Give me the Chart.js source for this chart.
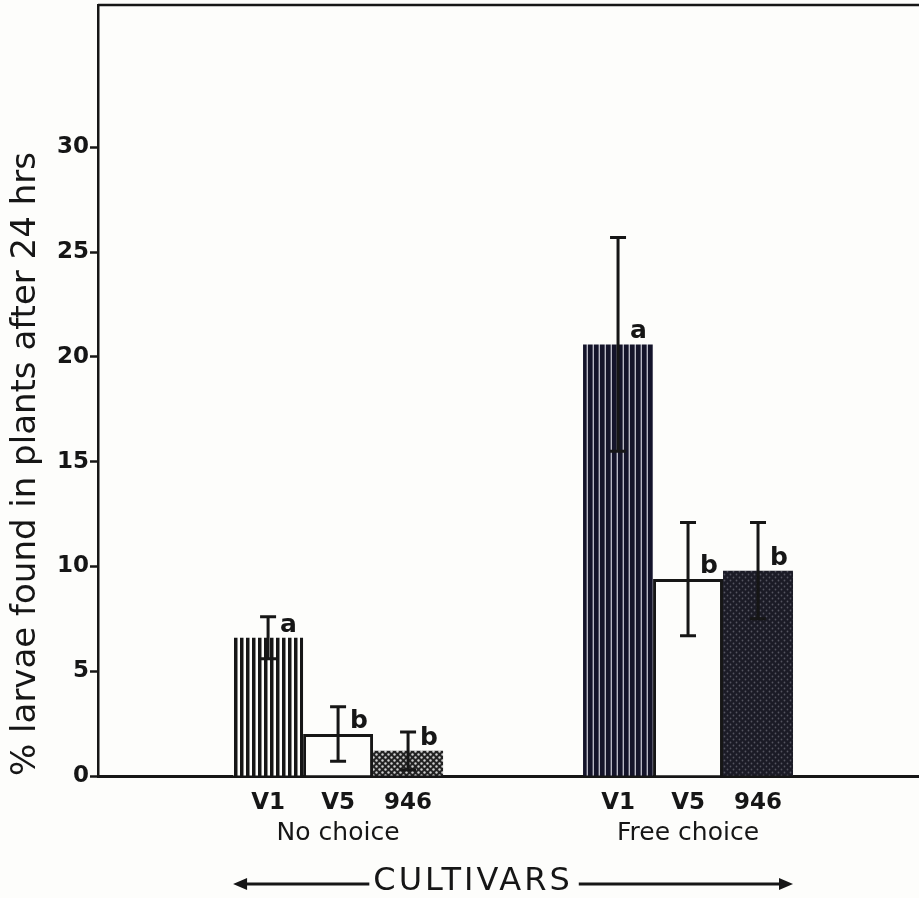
<!DOCTYPE html>
<html>
<head>
<meta charset="utf-8">
<script src="https://cdn.jsdelivr.net/npm/chart.js@4.4.1/dist/chart.umd.min.js"></script>
<style>
  html, body { margin: 0; padding: 0; background: #fdfdfb; }
  #wrap { width: 919px; height: 898px; }
</style>
</head>
<body>
<div id="wrap"><canvas id="c"></canvas></div>
<script>
// values
const groups = ['No choice', 'Free choice'];
const cultivars = ['V1', 'V5', '946'];
const v1Means = [6.6, 20.6];
const v5Means = [2.0, 9.4];
const c946Means = [1.2, 9.8];
const v1Err = [1.0, 5.1];
const v5Err = [1.3, 2.7];
const c946Err = [0.9, 2.3];
const v1Letters = ['a', 'a'];
const v5Letters = ['b', 'b'];
const c946Letters = ['b', 'b'];
const yTicks = [0, 5, 10, 15, 20, 25, 30];

const ink = '#161616';
const paper = '#fdfdfb';
const font = 'DejaVu Sans';

const canvas = document.getElementById('c');
const ctx = canvas.getContext('2d');

function stripes(bg, line, period, lineW) {
    const t = document.createElement('canvas');
    t.width = period; t.height = 4;
    const g = t.getContext('2d');
    g.fillStyle = bg; g.fillRect(0, 0, period, 4);
    g.fillStyle = line; g.fillRect(0, 0, lineW, 4);
    return ctx.createPattern(t, 'repeat');
}

function stipple(bg, dot, r) {
    const t = document.createElement('canvas');
    t.width = 6; t.height = 6;
    const g = t.getContext('2d');
    g.fillStyle = bg; g.fillRect(0, 0, 6, 6);
    g.fillStyle = dot;
    [[1.5, 1.5], [4.5, 4.5]].forEach(([x, y]) => {
        g.beginPath(); g.arc(x, y, r, 0, Math.PI * 2); g.fill();
    });
    return ctx.createPattern(t, 'repeat');
}

const toPoints = means => means.map((y, i) => ({ x: i, y: y }));

const annotate = {
    id: 'annotate',
    afterDatasetsDraw(chart) {
        const c = chart.ctx;
        const y = chart.scales.y;
        const area = chart.chartArea;
        c.save();
        c.strokeStyle = ink;
        c.fillStyle = ink;

        // top frame line
        c.lineWidth = 2.5;
        c.beginPath();
        c.moveTo(area.left, area.top);
        c.lineTo(area.right, area.top);
        c.stroke();

        chart.data.datasets.forEach((ds, d) => {
            const meta = chart.getDatasetMeta(d);
            meta.data.forEach((bar, i) => {
                const m = ds.data[i].y;
                const top = y.getPixelForValue(m + ds.err[i]);
                const bot = y.getPixelForValue(m - ds.err[i]);
                c.lineWidth = 3;
                c.beginPath();
                c.moveTo(bar.x, top); c.lineTo(bar.x, bot);
                c.moveTo(bar.x - 8, top); c.lineTo(bar.x + 8, top);
                c.moveTo(bar.x - 8, bot); c.lineTo(bar.x + 8, bot);
                c.stroke();

                c.font = 'bold 25px "' + font + '"';
                c.textAlign = 'left';
                c.textBaseline = 'alphabetic';
                c.fillText(ds.letters[i], bar.x + 12, bar.y - 6);

                c.font = 'bold 23px "' + font + '"';
                c.textAlign = 'center';
                c.textBaseline = 'middle';
                c.fillText(ds.label, bar.x, area.bottom + 27);
            });
        });

        // CULTIVARS with arrows
        const first = chart.getDatasetMeta(0).data[0];
        const last = chart.getDatasetMeta(2).data[1];
        const x0 = first.x - first.width / 2;
        const x1 = last.x + last.width / 2;
        const ay = area.bottom + 108;
        const label = 'CULTIVARS';
        c.font = '32px "' + font + '"';
        c.letterSpacing = '3px';
        const w = c.measureText(label).width;
        const cx = (x0 + x1) / 2 - 40;
        c.textAlign = 'center';
        c.textBaseline = 'middle';
        c.fillText(label, cx, ay - 2);
        c.lineWidth = 3;
        c.beginPath();
        c.moveTo(x0 + 10, ay); c.lineTo(cx - w / 2 - 4, ay);
        c.moveTo(cx + w / 2 + 6, ay); c.lineTo(x1 - 10, ay);
        c.stroke();
        c.beginPath();
        c.moveTo(x0, ay); c.lineTo(x0 + 14, ay - 6); c.lineTo(x0 + 14, ay + 6); c.closePath();
        c.moveTo(x1, ay); c.lineTo(x1 - 14, ay - 6); c.lineTo(x1 - 14, ay + 6); c.closePath();
        c.fill();
        c.restore();
    }
};

new Chart(canvas, {
    type: 'bar',
    data: {
        datasets: [
            {
                label: cultivars[0],
                data: toPoints(v1Means),
                err: v1Err,
                letters: v1Letters,
                backgroundColor: [stripes(paper, ink, 6, 3.5), stripes('#b8b8c4', '#14142a', 6, 4.6)],
                borderWidth: 0
            },
            {
                label: cultivars[1],
                data: toPoints(v5Means),
                err: v5Err,
                letters: v5Letters,
                backgroundColor: paper,
                borderColor: ink,
                borderWidth: 3,
                borderSkipped: 'bottom'
            },
            {
                label: cultivars[2],
                data: toPoints(c946Means),
                err: c946Err,
                letters: c946Letters,
                backgroundColor: [stipple('#222222', '#cfcfcf', 1.2), stipple('#1b1b26', '#555560', 0.9)],
                borderWidth: 0
            }
        ]
    },
    options: {
        responsive: true,
        maintainAspectRatio: false,
        animation: false,
        layout: { padding: { top: 5, right: 0, bottom: 0, left: 0 } },
        plugins: {
            legend: { display: false },
            tooltip: { enabled: false }
        },
        datasets: {
            bar: { categoryPercentage: 0.6, barPercentage: 1 }
        },
        scales: {
            x: {
                type: 'linear',
                offset: false,
                min: -0.686,
                max: 1.66,
                afterBuildTicks: s => { s.ticks = groups.map((g, i) => ({ value: i })); },
                afterFit: s => { s.height = 122; s.paddingLeft = 0; s.paddingRight = 0; },
                grid: { drawOnChartArea: false, drawTicks: false },
                border: { color: ink, width: 3 },
                ticks: {
                    padding: 42,
                    color: ink,
                    maxRotation: 0,
                    autoSkip: false,
                    font: { family: font, size: 25 },
                    callback: v => groups[v] ?? ''
                }
            },
            y: {
                min: 0,
                max: 36.8,
                afterBuildTicks: s => { s.ticks = yTicks.map(v => ({ value: v })); },
                afterFit: s => { s.width = 98; s.paddingTop = 0; s.paddingBottom = 0; },
                grid: { drawOnChartArea: false, tickLength: 8, tickColor: ink, tickWidth: 2.5 },
                border: { color: ink, width: 2.5 },
                ticks: {
                    padding: 1,
                    color: ink,
                    font: { family: font, size: 23, weight: 'bold' }
                },
                title: {
                    display: true,
                    text: '% larvae found in plants after 24 hrs',
                    align: 'start',
                    color: ink,
                    font: { family: font, size: 34 },
                    padding: { top: 6, bottom: 0 }
                }
            }
        }
    },
    plugins: [annotate]
});
</script>
</body>
</html>
